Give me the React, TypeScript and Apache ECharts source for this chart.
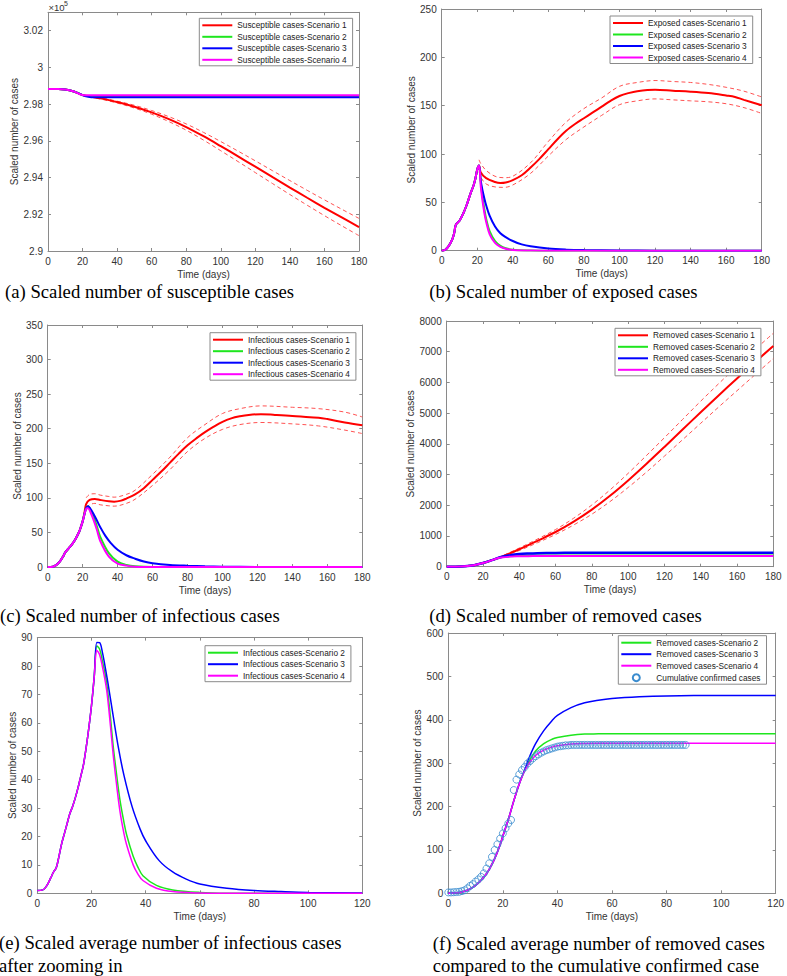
import React, { useEffect, useRef } from "react";
import * as echarts from "echarts";

// ---------- (a) Susceptible ----------
const dayA = [0, 5, 10, 15, 20, 25, 30, 40, 50, 60, 70, 80, 90, 100, 110, 120, 130, 140, 150, 160, 170, 180];
const susS1 = [298820, 298818, 298800, 298690, 298490, 298410, 298320, 298110, 297860, 297550, 297180, 296750, 296250, 295710, 295155, 294590, 294020, 293455, 292900, 292355, 291825, 291305];
const dayABand = [20, 30, 40, 50, 60, 70, 80, 90, 100, 110, 120, 130, 140, 150, 160, 170, 180];
const susS1Up = [298510, 298355, 298160, 297935, 297650, 297315, 296920, 296460, 295960, 295440, 294910, 294370, 293835, 293305, 292785, 292275, 291775];
const susS1Lo = [298470, 298285, 298060, 297785, 297450, 297045, 296580, 296040, 295460, 294870, 294270, 293670, 293075, 292495, 291925, 291375, 290835];
const dayAFlat = [0, 5, 10, 15, 20, 22, 25, 30, 180];
const susS2 = [298820, 298818, 298800, 298690, 298490, 298440, 298410, 298400, 298400];
const susS3 = [298820, 298818, 298800, 298690, 298490, 298420, 298380, 298370, 298370];
const susS4 = [298820, 298818, 298800, 298690, 298490, 298480, 298480, 298480, 298480];

// ---------- (b) Exposed ----------
const dayBS1 = [0, 2, 4, 6, 7, 8, 10, 12, 14, 16, 18, 19, 20, 21, 22, 25, 30, 33, 36, 40, 45, 50, 55, 60, 65, 70, 75, 80, 85, 90, 95, 100, 105, 110, 120, 130, 140, 150, 160, 165, 170, 180];
const expS1 = [0, 1, 5, 12, 18, 27, 31, 38, 47, 58, 68, 75, 84, 88, 81, 75, 71, 70, 70.5, 73, 78, 86, 95, 105, 115, 124, 131, 137, 143, 149, 155, 160, 163, 165, 166.5, 165.5, 164.5, 163, 160.5, 159, 156, 150.5];
const dayBBand = [21, 22, 25, 30, 35, 40, 50, 60, 70, 80, 90, 100, 110, 120, 130, 140, 150, 160, 170, 180];
const expS1Up = [94, 90, 83, 77, 75.5, 77, 91, 113, 133, 147, 158, 170, 174, 176, 175, 174, 172, 169, 165, 159];
const expS1Lo = [82, 76, 69, 66, 65.5, 68, 80, 98, 115, 128, 140, 151, 155, 157, 156, 155, 154, 152, 148, 142];
const dayBFast = [0, 2, 4, 6, 7, 8, 10, 12, 14, 16, 18, 19, 20, 21, 22, 23, 24, 25, 27, 30, 33, 36, 40, 50, 60, 180];
const expS2 = [0, 1, 5, 12, 18, 27, 31, 38, 47, 58, 68, 75, 84, 88, 70, 55, 43, 33, 20, 10, 5, 2.5, 1, 0.2, 0, 0];
const expS4 = [0, 1, 5, 12, 18, 27, 31, 38, 47, 58, 68, 75, 84, 88, 66, 51, 39, 30, 17, 8, 4, 2, 0.7, 0.1, 0, 0];
const dayBS3 = [0, 2, 4, 6, 7, 8, 10, 12, 14, 16, 18, 19, 20, 21, 22, 23, 24, 25, 27, 30, 33, 36, 40, 45, 50, 60, 70, 80, 100, 120, 180];
const expS3 = [0, 1, 5, 12, 18, 27, 31, 38, 47, 58, 68, 75, 84, 88, 72, 62, 54, 47, 36, 25, 18, 14, 10, 6.5, 4.5, 2.2, 1.1, 0.6, 0.2, 0.05, 0];

// ---------- (c) Infectious ----------
const dayCS1 = [0, 3, 5, 7, 9, 10, 12, 14, 16, 18, 19, 20, 21, 22, 24, 27, 30, 35, 38, 42, 45, 50, 55, 60, 65, 70, 75, 80, 85, 90, 95, 100, 105, 110, 115, 122, 130, 140, 150, 155, 160, 170, 180];
const infS1 = [0, 0.5, 3, 8, 16, 21, 27, 33, 41, 51, 58, 66, 78, 91, 97, 98.5, 97, 95, 94.5, 96, 99, 105, 114, 126, 138, 151, 164, 176, 186, 195, 203, 210, 215, 218, 220, 221, 220, 218.5, 216.5, 216, 214, 209, 205];
const dayCBand = [22, 24, 27, 30, 35, 38, 45, 50, 60, 70, 80, 90, 100, 110, 122, 140, 155, 170, 180];
const infS1Up = [100, 105, 106, 104, 102, 101, 105, 111, 134, 159, 187, 206, 222, 229, 233, 231, 229, 224, 217];
const infS1Lo = [86, 90, 92, 90, 88.5, 88, 92, 98, 118, 141, 167, 186, 199, 206, 209, 207, 204, 198, 193];
const dayCFast = [0, 3, 5, 7, 9, 10, 12, 14, 16, 18, 19, 20, 21, 22, 23, 25, 28, 30, 35, 40, 45, 50, 60, 180];
const infS2 = [0, 0.5, 3, 8, 16, 21, 27, 33, 41, 51, 58, 66, 76, 85, 88, 80, 60, 44, 20, 7.7, 3, 1, 0, 0];
const infS4 = [0, 0.5, 3, 8, 16, 21, 27, 33, 41, 51, 58, 66, 76, 84, 85, 76, 55, 38, 15, 5, 2, 0.5, 0, 0];
const dayCS3 = [0, 3, 5, 7, 9, 10, 12, 14, 16, 18, 19, 20, 21, 22, 23, 25, 28, 30, 33, 36, 40, 45, 50, 55, 60, 70, 80, 90, 100, 120, 180];
const infS3 = [0, 0.5, 3, 8, 16, 21, 27, 33, 41, 51, 58, 66, 76, 85, 88, 82, 68, 58, 45, 35, 25, 17, 12, 8, 5.5, 3, 1.8, 1, 0.5, 0.1, 0];

// ---------- (d) Removed ----------
const dayDS1 = [0, 5, 10, 15, 20, 25, 28, 30, 35, 40, 45, 50, 60, 70, 80, 90, 100, 110, 120, 130, 140, 150, 160, 170, 180];
const remS1 = [0, 2, 15, 50, 120, 215, 275, 318, 440, 568, 702, 840, 1130, 1470, 1860, 2310, 2810, 3345, 3900, 4465, 5030, 5585, 6130, 6665, 7190];
const dayDBand = [28, 30, 40, 50, 60, 70, 80, 90, 100, 110, 120, 130, 140, 150, 160, 170, 180];
const remS1Up = [280, 333, 608, 900, 1210, 1580, 2010, 2500, 3040, 3615, 4200, 4795, 5390, 5965, 6530, 7075, 7600];
const remS1Lo = [270, 303, 528, 780, 1050, 1360, 1710, 2120, 2580, 3075, 3600, 4135, 4670, 5205, 5730, 6255, 6780];
const dayDOther = [0, 5, 10, 15, 20, 25, 28, 30, 35, 40, 45, 50, 60, 70, 80, 180];
const remS2 = [0, 2, 15, 50, 120, 215, 275, 305, 340, 358, 364, 367, 368, 368, 368, 368];
const remS3 = [0, 2, 15, 50, 120, 215, 277, 318, 375, 410, 428, 439, 449, 453, 455, 456];
const remS4 = [0, 2, 15, 50, 120, 215, 273, 300, 328, 338, 343, 345, 346, 346, 346, 346];

// ---------- (e) Average infectious, zoomed ----------
const dayE = [0, 2, 3, 4, 5, 6, 7, 8, 9, 10, 11, 12, 13, 14, 15, 16, 17, 18, 19, 20, 21, 22, 23, 24, 25.6, 27, 28, 29, 30.5, 32, 33, 35.4, 37, 39, 44, 50, 60, 70, 120];
const avgI2 = [1, 1.2, 2, 3.5, 5.5, 7.5, 9, 13, 17.5, 21, 24.5, 28, 30.5, 33.5, 37, 41, 45, 51, 58, 66, 76, 87, 86, 82, 74, 62, 52, 44, 33, 25, 20.5, 13, 9.5, 6.2, 2.8, 1.2, 0.3, 0.05, 0];
const avgI4 = [1, 1.2, 2, 3.5, 5.5, 7.5, 9, 13, 17.5, 21, 24.5, 28, 30.5, 33.5, 37, 41, 45, 51, 58, 66, 76, 85.5, 84, 80, 71.6, 59, 49, 40.5, 29, 21, 17, 10, 7, 4.5, 1.8, 0.6, 0.1, 0, 0];
const dayE3 = [0, 2, 3, 4, 5, 6, 7, 8, 9, 10, 11, 12, 13, 14, 15, 16, 17, 18, 19, 20, 21, 22, 23, 24, 25, 26, 28, 30, 32, 35, 38, 40, 45, 50, 55, 60, 70, 80, 90, 100, 120];
const avgI3 = [1, 1.2, 2, 3.5, 5.5, 7.5, 9, 13, 17.5, 21, 24.5, 28, 30.5, 33.5, 37, 41, 45, 51, 58, 66, 76, 88.3, 88.2, 85, 80, 74.5, 62.5, 51, 41.5, 30.5, 22.5, 18.5, 11.5, 7.5, 5, 3.3, 1.8, 1, 0.6, 0.3, 0.1];

// ---------- (f) Average removed vs confirmed ----------
const dayF = [0, 3, 5, 7, 8, 10, 12, 14, 15, 17, 19, 20, 22, 24, 26, 28, 30, 32, 35, 38, 40, 45, 50, 55, 60, 70, 80, 100, 120];
const avgR2 = [0, 1, 3, 7, 10, 18, 30, 45, 55, 80, 112, 132, 170, 213, 252, 283, 308, 328, 345, 355, 359, 364.5, 367, 367.5, 368, 368, 368, 368, 368];
const avgR3 = [0, 1, 3, 7, 10, 18, 30, 45, 55, 80, 112, 132, 170, 213, 252, 285, 318, 345, 375, 398, 410, 428, 439, 445, 449, 453, 455, 456, 456];
const avgR4 = [0, 1, 3, 7, 10, 18, 30, 45, 55, 80, 112, 132, 170, 213, 252, 282, 303, 318, 330, 337, 340, 344, 345.5, 346, 346, 346, 346, 346, 346];
// cumulative confirmed cases, one value per day from day 0 to day 87
const confirmed = [
  2, 2, 2.5, 3, 3.5, 5, 7,
  11.5, 17, 21, 27, 32, 38, 46,
  57, 69, 84, 100, 113, 126, 138,
  150, 161, 169, 238, 262, 274, 284,
  291, 299, 305, 311, 316, 320, 324,
  327, 330, 332, 334, 336, 338, 339,
  340, 341, 341, 342, 342, 342, 342,
  342, 342, 342, 342, 342, 342, 342, 342, 342, 342,
  342, 342, 342, 342, 342, 342, 342, 342, 342, 342,
  342, 342, 342, 342, 342, 342, 342, 342, 342, 342,
  342, 342, 342, 342, 342, 342, 342, 342, 342,
];

const xTickMaxA = 180;
const xTickMaxE = 120;

const SANS = '"Liberation Sans", Arial, Helvetica, sans-serif';
const SERIF = '"Liberation Serif", "Times New Roman", serif';
const AX = "#8a8a8a";
const LAB = "#333333";
const RED = "#ff0000";
const GREEN = "#1ee61e";
const BLUE = "#0000ff";
const MAG = "#ff00ff";
const RED_D = "#ff5252";
const CIRC = "#3a8ccf";

type Panel = {
  g: [number, number, number, number];
  xMax: number;
  yMin: number;
  yMax: number;
  yInt: number;
  yGap: number;
  fmt?: (v: number) => string;
  legend: { left: number; top: number; names: string[] };
};

const plain = (v: number) => String(v);

const panels: Panel[] = [
  {
    g: [48, 12.3, 359, 251], xMax: xTickMaxA, yMin: 290000, yMax: 303000, yInt: 2000, yGap: 25.5,
    fmt: (v: number) => (Math.round(v) % 2000 !== 0 ? "" : String(Number((v / 1e5).toFixed(2)))),
    legend: { left: 199.3, top: 18.3, names: ["Susceptible cases-Scenario 1", "Susceptible cases-Scenario 2", "Susceptible cases-Scenario 3", "Susceptible cases-Scenario 4"] },
  },
  {
    g: [441.7, 9, 761.7, 250.7], xMax: xTickMaxA, yMin: 0, yMax: 250, yInt: 50, yGap: 24.5,
    legend: { left: 610, top: 16, names: ["Exposed cases-Scenario 1", "Exposed cases-Scenario 2", "Exposed cases-Scenario 3", "Exposed cases-Scenario 4"] },
  },
  {
    g: [47.7, 325, 362.3, 567], xMax: xTickMaxA, yMin: 0, yMax: 350, yInt: 50, yGap: 24,
    legend: { left: 210, top: 332.7, names: ["Infectious cases-Scenario 1", "Infectious cases-Scenario 2", "Infectious cases-Scenario 3", "Infectious cases-Scenario 4"] },
  },
  {
    g: [446.7, 321, 773.3, 566.7], xMax: xTickMaxA, yMin: 0, yMax: 8000, yInt: 1000, yGap: 30.5,
    legend: { left: 615, top: 328.3, names: ["Removed cases-Scenario 1", "Removed cases-Scenario 2", "Removed cases-Scenario 3", "Removed cases-Scenario 4"] },
  },
  {
    g: [37.3, 637.6, 362.3, 893.3], xMax: xTickMaxE, yMin: 0, yMax: 90, yInt: 10, yGap: 18.5,
    legend: { left: 205, top: 645.7, names: ["Infectious cases-Scenario 2", "Infectious cases-Scenario 3", "Infectious cases-Scenario 4"] },
  },
  {
    g: [448.3, 633, 778.3, 893.3], xMax: xTickMaxE, yMin: 0, yMax: 600, yInt: 100, yGap: 24.5,
    legend: { left: 618.3, top: 635.7, names: ["Removed cases-Scenario 2", "Removed cases-Scenario 3", "Removed cases-Scenario 4", "Cumulative confirmed cases"] },
  },
];

const zip = (days: number[], vals: number[]) => days.map((d, i) => [d, vals[i]]);

function ln(p: number, name: string, days: number[], vals: number[], color: string, width: number, z = 3): any {
  return {
    type: "line",
    name,
    xAxisIndex: 2 * p,
    yAxisIndex: 2 * p,
    data: zip(days, vals),
    symbol: "none",
    smooth: 0.35,
    lineStyle: { color, width },
    itemStyle: { color },
    z,
    silent: true,
  };
}
function dash(p: number, name: string, days: number[], vals: number[], color: string): any {
  const s = ln(p, name, days, vals, color, 1, 2);
  s.lineStyle = { color, width: 1, type: [4, 3] };
  return s;
}

export default function App() {
  const ref = useRef<HTMLDivElement>(null);
  useEffect(() => {
    if (!ref.current) return;
    const chart = echarts.init(ref.current, undefined, { renderer: "svg" });

    const grids = panels.map((p) => ({
      left: p.g[0],
      top: p.g[1],
      width: p.g[2] - p.g[0],
      height: p.g[3] - p.g[1],
      containLabel: false,
    }));

    const axisCommon = {
      type: "value",
      axisLine: { show: true, onZero: false, lineStyle: { color: AX, width: 1 } },
      axisTick: { show: true, inside: true, length: 3, lineStyle: { color: AX, width: 1 } },
      splitLine: { show: false },
    };
    const xAxes: any[] = [];
    const yAxes: any[] = [];
    panels.forEach((p, i) => {
      const xBase = { ...axisCommon, gridIndex: i, min: 0, max: p.xMax, interval: 20 };
      xAxes.push({
        ...xBase,
        position: "bottom",
        axisLabel: { fontSize: 10, color: LAB, margin: 5, fontFamily: SANS, formatter: plain },
        name: "Time (days)",
        nameLocation: "middle",
        nameGap: 18,
        nameTextStyle: { fontSize: 10, color: LAB, fontFamily: SANS },
      });
      xAxes.push({ ...xBase, position: "top", axisLabel: { show: false } });
      const yBase = { ...axisCommon, gridIndex: i, min: p.yMin, max: p.yMax, interval: p.yInt };
      yAxes.push({
        ...yBase,
        position: "left",
        axisLabel: { fontSize: 10, color: LAB, margin: 5, fontFamily: SANS, formatter: p.fmt || plain },
        name: "Scaled number of cases",
        nameLocation: "middle",
        nameGap: p.yGap,
        nameTextStyle: { fontSize: 10, color: LAB, fontFamily: SANS },
      });
      yAxes.push({ ...yBase, position: "right", axisLabel: { show: false } });
    });

    const legends = panels.map((p) => ({
      show: true,
      orient: "vertical",
      left: p.legend.left,
      top: p.legend.top,
      data: p.legend.names.map((n) =>
        n === "Cumulative confirmed cases"
          ? { name: n, itemStyle: { opacity: 1 } }
          : { name: n }
      ),
      itemWidth: 30,
      itemHeight: 7,
      itemGap: 3.5,
      padding: [3, 6, 2, 2],
      borderColor: "#8a8a8a",
      borderWidth: 1,
      backgroundColor: "#ffffff",
      selectedMode: false,
      itemStyle: { opacity: 0 },
      textStyle: { fontSize: 8.3, color: "#222", fontFamily: SANS },
      z: 10,
    }));

    const series: any[] = [
      // (a)
      dash(0, "a-up", dayABand, susS1Up, RED_D),
      dash(0, "a-lo", dayABand, susS1Lo, RED_D),
      ln(0, "Susceptible cases-Scenario 1", dayA, susS1, RED, 2),
      ln(0, "Susceptible cases-Scenario 2", dayAFlat, susS2, GREEN, 2),
      ln(0, "Susceptible cases-Scenario 3", dayAFlat, susS3, BLUE, 2),
      ln(0, "Susceptible cases-Scenario 4", dayAFlat, susS4, MAG, 2),
      // (b)
      dash(1, "b-up", dayBBand, expS1Up, RED_D),
      dash(1, "b-lo", dayBBand, expS1Lo, RED_D),
      ln(1, "Exposed cases-Scenario 1", dayBS1, expS1, RED, 2),
      ln(1, "Exposed cases-Scenario 2", dayBFast, expS2, GREEN, 2),
      ln(1, "Exposed cases-Scenario 3", dayBS3, expS3, BLUE, 2),
      ln(1, "Exposed cases-Scenario 4", dayBFast, expS4, MAG, 2),
      // (c)
      dash(2, "c-up", dayCBand, infS1Up, RED_D),
      dash(2, "c-lo", dayCBand, infS1Lo, RED_D),
      ln(2, "Infectious cases-Scenario 1", dayCS1, infS1, RED, 2),
      ln(2, "Infectious cases-Scenario 2", dayCFast, infS2, GREEN, 2),
      ln(2, "Infectious cases-Scenario 3", dayCS3, infS3, BLUE, 2),
      ln(2, "Infectious cases-Scenario 4", dayCFast, infS4, MAG, 2),
      // (d)
      dash(3, "d-up", dayDBand, remS1Up, RED_D),
      dash(3, "d-lo", dayDBand, remS1Lo, RED_D),
      ln(3, "Removed cases-Scenario 1", dayDS1, remS1, RED, 2),
      ln(3, "Removed cases-Scenario 2", dayDOther, remS2, GREEN, 2),
      ln(3, "Removed cases-Scenario 3", dayDOther, remS3, BLUE, 2.5),
      ln(3, "Removed cases-Scenario 4", dayDOther, remS4, MAG, 2),
      // (e)
      ln(4, "Infectious cases-Scenario 2", dayE, avgI2, GREEN, 1.5),
      ln(4, "Infectious cases-Scenario 3", dayE3, avgI3, BLUE, 1.5),
      ln(4, "Infectious cases-Scenario 4", dayE, avgI4, MAG, 1.5),
      // (f)
      ln(5, "Removed cases-Scenario 2", dayF, avgR2, GREEN, 1.5),
      ln(5, "Removed cases-Scenario 3", dayF, avgR3, BLUE, 1.5),
      ln(5, "Removed cases-Scenario 4", dayF, avgR4, MAG, 1.5),
      {
        type: "scatter",
        name: "Cumulative confirmed cases",
        xAxisIndex: 10,
        yAxisIndex: 10,
        data: confirmed.map((v, i) => [i, v]),
        symbol: "circle",
        symbolSize: 7,
        itemStyle: { color: "rgba(0,0,0,0)", borderColor: CIRC, borderWidth: 1 },
        z: 5,
        silent: true,
      },
    ];

    const cap = (x: number, y: number, text: string) => ({
      type: "text",
      x,
      y,
      silent: true,
      style: { text, fontSize: 18.7, fontFamily: SERIF, fill: "#000", verticalAlign: "middle", align: "left" },
    });

    const graphic = [
      {
        type: "text", x: 48.5, y: 7.5, silent: true,
        style: { text: "×10", fontSize: 9.5, fontFamily: SANS, fill: LAB, verticalAlign: "middle" },
      },
      {
        type: "text", x: 64, y: 3.8, silent: true,
        style: { text: "5", fontSize: 7, fontFamily: SANS, fill: LAB, verticalAlign: "middle" },
      },
      cap(5, 291, "(a) Scaled number of susceptible cases"),
      cap(429.3, 291, "(b) Scaled number of exposed cases"),
      cap(0, 615, "(c) Scaled number of infectious cases"),
      cap(429.3, 615, "(d) Scaled number of removed cases"),
      cap(-1, 942.5, "(e) Scaled average number of infectious cases"),
      cap(-1, 965, "after zooming in"),
      cap(432.7, 943, "(f) Scaled average number of removed cases"),
      cap(432.7, 965, "compared to the cumulative confirmed case"),
    ];

    chart.setOption({
      animation: false,
      backgroundColor: "#ffffff",
      grid: grids,
      xAxis: xAxes,
      yAxis: yAxes,
      legend: legends,
      series,
      graphic,
    });
    return () => chart.dispose();
  }, []);

  return (
    <div
      ref={ref}
      style={{ position: "fixed", left: 0, top: 0, width: 787, height: 976, background: "#fff" }}
    />
  );
}
